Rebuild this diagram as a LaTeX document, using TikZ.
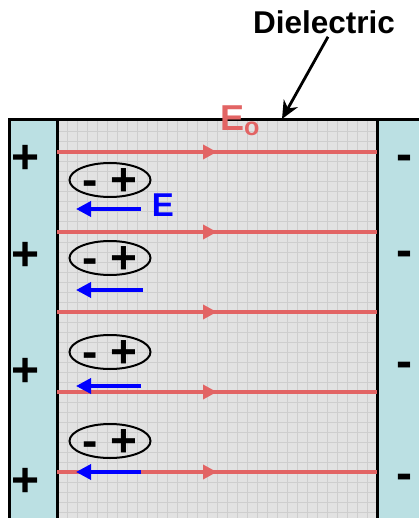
\documentclass[tikz,border=0pt]{standalone}
\usepackage{fontspec}
\setmainfont{Liberation Sans}
\usetikzlibrary{arrows.meta, decorations.markings, positioning, shapes.geometric}
\definecolor{plate}{RGB}{187,224,227}
\definecolor{field}{RGB}{226,100,100}
\definecolor{dielec}{RGB}{226,226,226}
\definecolor{gridline}{RGB}{206,206,206}
\tikzset{
    textnode/.style = {draw=none, fill=none, inner sep=0em, font=\fontsize{31.5}{32}\selectfont\bfseries},
    signnode/.style = {draw=none, inner sep=0em, font=\fontsize{46}{46}\selectfont\bfseries},
    dipolenode/.style = {draw, ellipse, line width=2pt, minimum width=81pt, minimum height=34pt, inner sep=0em},
    fieldline/.style = {field, line width=3.5pt, postaction={decorate},
      decoration={markings, mark=at position 0.5 with {\arrow{Triangle[length=14pt,width=14pt]}}}},
    efield/.style = {blue, line width=3.5pt, -{Triangle[length=15pt,width=15pt]}},
    connect/.style = {black, line width=2.8pt, -{Stealth[length=18pt,width=16pt]}}
}

\begin{document}
\begin{tikzpicture}[x=1pt, y=-1pt]
    \clip (0,0) rectangle (419,518);
    % plates and dielectric
    \fill[plate] (9,120) rectangle (57,530);
    \fill[plate] (377,120) rectangle (440,530);
    \fill[dielec] (57,120) rectangle (377,530);
    \foreach \gx in {67,77,...,367} \draw[gridline, line width=1pt] (\gx,120) -- (\gx,530);
    \foreach \gy in {132,142,...,522} \draw[gridline, line width=1pt] (57,\gy) -- (377,\gy);
    \draw[line width=3pt] (9,530) -- (9,120) -- (440,120);
    \draw[line width=3pt] (57,120) -- (57,530);
    \draw[line width=3pt] (377,120) -- (377,530);

    % field lines
    \foreach \fy in {152,232,312,392,472} \draw[fieldline] (57,\fy) -- (377,\fy);

    % dipoles
    \node [name = dipoleA, dipolenode] at (110,180) {};
    \node [name = dipoleB, dipolenode] at (110,258) {};
    \node [name = dipoleC, dipolenode] at (110,352) {};
    \node [name = dipoleD, dipolenode] at (110,441) {};
    \foreach \d in {dipoleA, dipoleB, dipoleC, dipoleD}
        \node [signnode, yshift=-2pt] at (\d) {- +};

    % induced field
    \coordinate (EaR) at (141,209); \coordinate (EaL) at (76,209);
    \coordinate (EbR) at (143,290); \coordinate (EbL) at (76,290);
    \coordinate (EcR) at (141,386); \coordinate (EcL) at (76,386);
    \coordinate (EdR) at (141,472); \coordinate (EdL) at (76,472);
    \draw[efield] (EaR) -- (EaL);
    \draw[efield] (EbR) -- (EbL);
    \draw[efield] (EcR) -- (EcL);
    \draw[efield] (EdR) -- (EdL);
    \node [name = E, textnode, text=blue, font=\fontsize{33}{33}\selectfont\bfseries] at (163,205) {E};

    % charges on the plates
    \foreach \py in {159,256,372,482} \node [signnode, font=\fontsize{48}{48}\selectfont\bfseries] at (26,\py) {+};
    \foreach \my in {163,259,370,482} \node [signnode, font=\fontsize{48}{48}\selectfont\bfseries] at (404,\my) {-};

    % labels
    \node [name = Eo, textnode, text=field, font=\fontsize{36}{36}\selectfont\bfseries] at (240,121) {E$_{\mathbf{o}}$};
    \node [name = Dielectric, textnode] at (324,22) {Dielectric};
    \coordinate (DielTop) at (282,119);
    \draw[connect] (Dielectric.south) ++(4,3) -- (DielTop);
\end{tikzpicture}
\end{document}
